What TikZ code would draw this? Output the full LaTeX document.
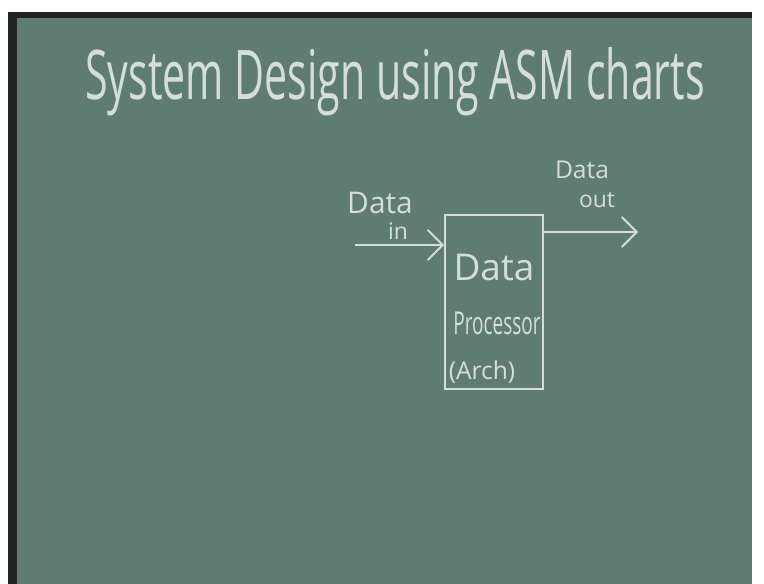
\documentclass[tikz,border=0pt]{standalone}
\usepackage{fontspec}
\usepackage{xcolor}
\usepackage{tikz}
\usetikzlibrary{positioning, arrows.meta}
\newfontfamily\chalkfont{Open Sans}
\newfontfamily\chalknarrow[FakeStretch=0.6]{Open Sans}
\definecolor{board}{HTML}{5F7C72}
\definecolor{chalk}{HTML}{D6DED9}
\definecolor{boardedge}{HTML}{1F2321}

\begin{document}
\begin{tikzpicture}[x=0.02cm, y=-0.02cm, font=\chalkfont, text=chalk]
  % board and its frame
  \useasboundingbox (0,0) rectangle (764,584);
  \fill[white] (0,0) rectangle (764,584);
  \fill[boardedge] (8,12) rectangle (752,584);
  \fill[board] (17,18) rectangle (752,584);

  \node[anchor=base west, inner sep=0pt, font=\chalknarrow\fontsize{39}{39}\selectfont] (title) at (85,100)
    {System Design using ASM charts};

  % the processor block
  \node[draw=chalk, line width=1.1pt, minimum width=1.96cm, minimum height=3.48cm] (proc) at (494,302) {};
  \node[font=\chalkfont\fontsize{21}{21}\selectfont] (procData) at (494,268) {Data};
  \node[font=\chalknarrow\fontsize{18}{18}\selectfont] (procName) at (497,323) {Processor};
  \node[font=\chalkfont\fontsize{14}{14}\selectfont] (procArch) at (482,372) {(Arch)};

  % data in / data out
  \node[inner sep=0pt, font=\chalkfont\fontsize{17}{17}\selectfont] (inData) at (380,203) {Data};
  \node[inner sep=0pt, font=\chalkfont\fontsize{13}{13}\selectfont] (inWord) at (398,231) {in};
  \node[inner sep=0pt, font=\chalkfont\fontsize{14}{14}\selectfont] (outData) at (582,170) {Data};
  \node[inner sep=0pt, font=\chalkfont\fontsize{13}{13}\selectfont] (outWord) at (597,200) {out};

  \coordinate (inStart) at (355,245);
  \coordinate (outEnd) at (638,232);
  \draw[-{Straight Barb[length=3mm]}, chalk, line width=1.1pt] (inStart) -- (inStart -| proc.west);
  \draw[-{Straight Barb[length=3mm]}, chalk, line width=1.1pt] (proc.east |- outEnd) -- (outEnd);
\end{tikzpicture}
\end{document}
